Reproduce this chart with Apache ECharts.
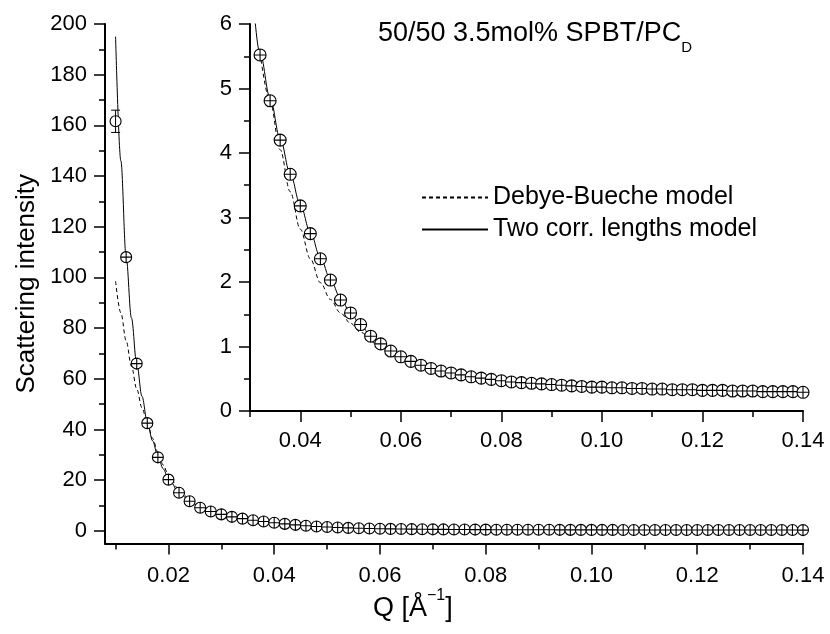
<!DOCTYPE html>
<html>
<head>
<meta charset="utf-8">
<script src="https://cdn.jsdelivr.net/npm/echarts@6/dist/echarts.min.js"></script>
<style>
  html, body { margin: 0; padding: 0; background: #fff; }
  #chart { width: 830px; height: 634px; }
</style>
</head>
<body>
<div id="chart"></div>
<script>
// measured points, Q in 1/Angstrom
const qValues = [
  0.010, 0.012, 0.014, 0.016, 0.018, 0.020, 0.022, 0.024, 0.026, 0.028,
  0.030, 0.032, 0.034, 0.036, 0.038, 0.040, 0.042, 0.044, 0.046, 0.048,
  0.050, 0.052, 0.054, 0.056, 0.058, 0.060, 0.062, 0.064, 0.066, 0.068,
  0.070, 0.072, 0.074, 0.076, 0.078, 0.080, 0.082, 0.084, 0.086, 0.088,
  0.090, 0.092, 0.094, 0.096, 0.098, 0.100, 0.102, 0.104, 0.106, 0.108,
  0.110, 0.112, 0.114, 0.116, 0.118, 0.120, 0.122, 0.124, 0.126, 0.128,
  0.130, 0.132, 0.134, 0.136, 0.138, 0.140
]
const intensity = [
  161.6, 108, 66, 42.5, 29, 20.2, 15, 11.7, 9.1, 7.6,
  6.5, 5.52, 4.81, 4.2, 3.67, 3.18, 2.75, 2.36, 2.03, 1.72,
  1.52, 1.34, 1.16, 1.04, 0.93, 0.84, 0.77, 0.71, 0.66, 0.62,
  0.59, 0.56, 0.53, 0.51, 0.49, 0.47, 0.45, 0.44, 0.43, 0.42,
  0.41, 0.40, 0.39, 0.38, 0.37, 0.37, 0.36, 0.36, 0.35, 0.35,
  0.34, 0.34, 0.33, 0.33, 0.33, 0.32, 0.32, 0.32, 0.31, 0.31,
  0.31, 0.30, 0.30, 0.30, 0.30, 0.29
]
// [Q, I, error] for points whose error bar sticks out of the marker
const errorBars = [[0.010, 161.6, 4.4]]

// fitted curves
const twoLenQ = [
  0.010, 0.011, 0.012, 0.013, 0.014, 0.015, 0.016, 0.017, 0.018, 0.019,
  0.020, 0.022, 0.024, 0.026, 0.028, 0.030, 0.032, 0.034, 0.036, 0.038,
  0.040, 0.042, 0.044, 0.046, 0.048, 0.050, 0.052, 0.054, 0.056, 0.058,
  0.060, 0.065, 0.070, 0.075, 0.080, 0.090, 0.100, 0.110, 0.120, 0.130, 0.140
]
const twoLenI = [
  195, 146, 108, 84, 66, 53, 43, 35.5, 29.5, 24.5,
  20.5, 15.2, 11.8, 9.3, 7.7, 6.55, 5.55, 4.85, 4.22, 3.68,
  3.2, 2.77, 2.38, 2.04, 1.75, 1.52, 1.33, 1.17, 1.04, 0.93,
  0.85, 0.69, 0.59, 0.52, 0.47, 0.40, 0.36, 0.33, 0.31, 0.29, 0.28
]
const debyeQ = [
  0.010, 0.011, 0.012, 0.013, 0.014, 0.015, 0.016, 0.017, 0.018, 0.019,
  0.020, 0.022, 0.024, 0.026, 0.028, 0.030, 0.032, 0.034, 0.036, 0.038,
  0.040, 0.042, 0.044, 0.046, 0.048, 0.050, 0.052, 0.055, 0.060, 0.065,
  0.070, 0.080, 0.090, 0.100, 0.110, 0.120, 0.130, 0.140
]
const debyeI = [
  98.5, 86, 75, 65, 56, 48.5, 42.5, 36.5, 31, 26,
  22, 16.3, 12.5, 9.8, 8.0, 6.7, 5.55, 4.8, 4.05, 3.4,
  2.82, 2.36, 1.99, 1.73, 1.52, 1.36, 1.22, 1.05, 0.84, 0.70,
  0.60, 0.47, 0.40, 0.36, 0.33, 0.31, 0.29, 0.28
]

// tick values
const mainXMajor = [0.02, 0.04, 0.06, 0.08, 0.10, 0.12, 0.14]
const mainXMinor = [0.01, 0.03, 0.05, 0.07, 0.09, 0.11, 0.13]
const mainYMajor = [0, 20, 40, 60, 80, 100, 120, 140, 160, 180, 200]
const mainYMinor = [10, 30, 50, 70, 90, 110, 130, 150, 170, 190]
const insetXMajor = [0.04, 0.06, 0.08, 0.10, 0.12, 0.14]
const insetXMinor = [0.03, 0.05, 0.07, 0.09, 0.11, 0.13]
const insetYMajor = [0, 1, 2, 3, 4, 5, 6]
const insetYMinor = [0.5, 1.5, 2.5, 3.5, 4.5, 5.5]

const FONT = '"Liberation Sans", Arial, sans-serif'
const crossSymbol = 'path://M10,0 A10,10 0 1,1 9.99,0 Z M10,0 L10,20 M0,10 L20,10'

function pairs (xs, ys) {
  return xs.map((x, i) => [x, ys[i]])
}

// one visible axis with long labelled ticks plus an overlay carrying the short ticks
function makeAxes (gridIndex, position, min, max, major, minor, fmt, margin, extra) {
  let base = {
    type: 'value',
    gridIndex: gridIndex,
    position: position,
    min: min,
    max: max,
    splitLine: { show: false }
  }
  let majorAxis = Object.assign({}, base, {
    axisLine: { show: true, onZero: false, lineStyle: { color: '#000', width: 2 } },
    axisTick: { show: true, customValues: major, length: 11, lineStyle: { color: '#000', width: 1.5 } },
    axisLabel: {
      show: true,
      customValues: major,
      formatter: fmt,
      margin: margin,
      color: '#000',
      fontSize: 22,
      fontFamily: FONT
    }
  }, extra || {})
  let minorAxis = Object.assign({}, base, {
    axisLine: { show: false, onZero: false },
    axisTick: { show: true, customValues: minor, length: 6, lineStyle: { color: '#000', width: 1.5 } },
    axisLabel: { show: false }
  })
  return [majorAxis, minorAxis]
}

const fmtQ = v => v.toFixed(2)
const fmtInt = v => String(Math.round(v))

const xAxes = [].concat(
  makeAxes(0, 'bottom', 0.008, 0.14, mainXMajor, mainXMinor, fmtQ, 21),
  makeAxes(1, 'bottom', 0.03, 0.14, insetXMajor, insetXMinor, fmtQ, 19)
)
const yAxes = [].concat(
  makeAxes(0, 'left', -5, 200, mainYMajor, mainYMinor, fmtInt, 18, {
    name: 'Scattering intensity',
    nameLocation: 'middle',
    nameRotate: 90,
    nameGap: 58,
    nameTextStyle: { color: '#000', fontSize: 26, fontFamily: FONT }
  }),
  makeAxes(1, 'left', 0, 6, insetYMajor, insetYMinor, fmtInt, 18)
)

function pointData () {
  return qValues.map((q, i) => {
    let hasBar = errorBars.some(b => b[0] === q)
    return { value: [q, intensity[i]], symbol: hasBar ? 'circle' : crossSymbol }
  })
}

function errorBarItem (params, api) {
  let x = api.value(0)
  let y = api.value(1)
  let e = api.value(2)
  let top = api.coord([x, y + e])
  let bot = api.coord([x, y - e])
  let w = 4.5
  let st = { stroke: '#000', lineWidth: 1 }
  return {
    type: 'group',
    children: [
      { type: 'line', shape: { x1: top[0], y1: top[1], x2: bot[0], y2: bot[1] }, style: st },
      { type: 'line', shape: { x1: top[0] - w, y1: top[1], x2: top[0] + w, y2: top[1] }, style: st },
      { type: 'line', shape: { x1: bot[0] - w, y1: bot[1], x2: bot[0] + w, y2: bot[1] }, style: st }
    ]
  }
}

function curve (name, data, xi, yi, dashed) {
  return {
    name: name,
    type: 'line',
    xAxisIndex: xi,
    yAxisIndex: yi,
    data: data,
    symbol: 'none',
    smooth: 0.35,
    smoothMonotone: 'x',
    clip: true,
    silent: true,
    z: 2,
    itemStyle: { color: '#000' },
    lineStyle: { color: '#000', width: 1, type: dashed ? [4, 3] : 'solid' }
  }
}

function points (xi, yi, size) {
  return {
    type: 'scatter',
    xAxisIndex: xi,
    yAxisIndex: yi,
    data: pointData(),
    symbolSize: size,
    clip: true,
    silent: true,
    z: 3,
    itemStyle: { color: '#fff', borderColor: '#000', borderWidth: 1.1, opacity: 1 }
  }
}

const debyeAll = pairs(debyeQ, debyeI)
const twoLenAll = pairs(twoLenQ, twoLenI)

let chart = echarts.init(document.getElementById('chart'), null, { renderer: 'canvas' })
let option = {
  animation: false,
  backgroundColor: '#fff',
  textStyle: { fontFamily: FONT },
  grid: [
    { left: 105, right: 27, top: 24, bottom: 90.5 },
    { left: 250, right: 27, top: 24, bottom: 223 }
  ],
  title: [
    {
      text: '{a|50/50 3.5mol% SPBT/PC}{b|D}',
      left: 378,
      top: 13,
      padding: 0,
      textStyle: {
        fontWeight: 'normal',
        rich: {
          a: { fontSize: 27, lineHeight: 42, fontWeight: 'normal', color: '#000', fontFamily: FONT },
          b: { fontSize: 15, lineHeight: 14, fontWeight: 'normal', verticalAlign: 'bottom', color: '#000', fontFamily: FONT }
        }
      }
    },
    {
      text: '{a|Q [Å}{s|−1}{a|]}',
      left: 373,
      top: 588,
      padding: 0,
      textStyle: {
        fontWeight: 'normal',
        rich: {
          a: { fontSize: 27, lineHeight: 42, fontWeight: 'normal', color: '#000', fontFamily: FONT },
          s: { fontSize: 16, lineHeight: 14, fontWeight: 'normal', verticalAlign: 'top', color: '#000', fontFamily: FONT }
        }
      }
    }
  ],
  legend: {
    data: ['Debye-Bueche model', 'Two corr. lengths model'],
    orient: 'vertical',
    left: 421,
    top: 184,
    padding: 0,
    itemGap: 5,
    itemWidth: 66,
    itemHeight: 14,
    selectedMode: false,
    itemStyle: { color: 'transparent', borderColor: 'transparent', borderWidth: 0, opacity: 0 },
    textStyle: { color: '#000', fontSize: 25, lineHeight: 27, fontFamily: FONT }
  },
  xAxis: xAxes,
  yAxis: yAxes,
  series: [
    curve('Debye-Bueche model', debyeAll, 0, 0, true),
    curve('Two corr. lengths model', twoLenAll, 0, 0, false),
    points(0, 0, 11),
    {
      type: 'custom',
      xAxisIndex: 0,
      yAxisIndex: 0,
      data: errorBars,
      renderItem: errorBarItem,
      encode: { x: 0, y: 1 },
      silent: true,
      z: 4
    },
    curve('Debye-Bueche model', debyeAll.filter(p => p[0] >= 0.032), 2, 2, true),
    curve('Two corr. lengths model', twoLenAll, 2, 2, false),
    points(2, 2, 12)
  ]
}
chart.setOption(option)
</script>
</body>
</html>
